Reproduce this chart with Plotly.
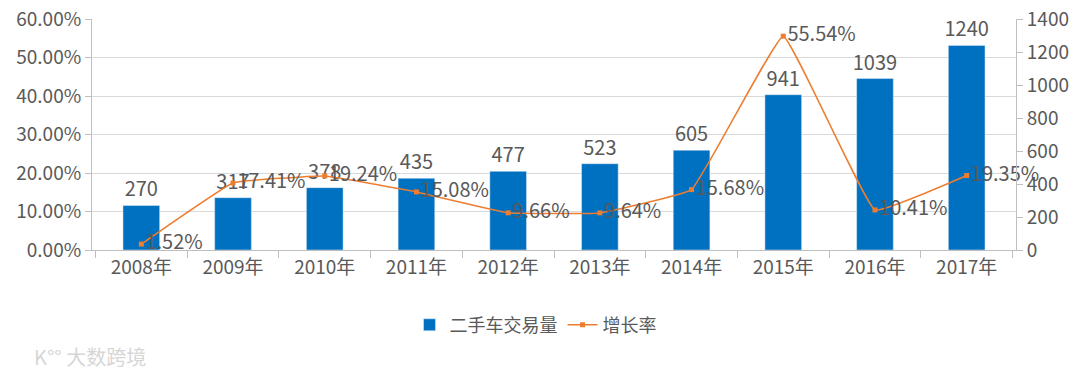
import plotly.graph_objects as go

years = ["2008年", "2009年", "2010年", "2011年", "2012年", "2013年", "2014年", "2015年", "2016年", "2017年"]
volume = [270, 317, 378, 435, 477, 523, 605, 941, 1039, 1240]
growth = [0.0152, 0.1741, 0.1924, 0.1508, 0.0966, 0.0964, 0.1568, 0.5554, 0.1041, 0.1935]
growth_labels = ["1.52%", "17.41%", "19.24%", "15.08%", "9.66%", "9.64%", "15.68%", "55.54%", "10.41%", "19.35%"]
left_ticks = [0, 0.1, 0.2, 0.3, 0.4, 0.5, 0.6]
right_ticks = [0, 200, 400, 600, 800, 1000, 1200, 1400]

FONT = "Noto Sans CJK SC"
GREY = "#595959"

fig = go.Figure()
fig.add_trace(go.Bar(
    x=years, y=volume, name="二手车交易量", yaxis="y",
    marker=dict(color="#0070C0"), width=0.4,
    text=[str(v) for v in volume], textposition="outside", constraintext="none",
    textfont=dict(size=20, color=GREY, family=FONT), cliponaxis=False,
))
fig.add_trace(go.Scatter(
    x=years, y=growth, name="增长率", yaxis="y2",
    mode="lines+markers+text",
    line=dict(color="#ED7D31", width=1.5, shape="spline", smoothing=0.25),
    marker=dict(color="#ED7D31", size=5, symbol="square"),
    text=growth_labels, textposition="middle right",
    textfont=dict(size=20, color=GREY, family=FONT), cliponaxis=False,
))

fig.update_layout(
    width=1080, height=380,
    margin=dict(l=92, r=64, t=19, b=130, autoexpand=False),
    plot_bgcolor="white", paper_bgcolor="white",
    font=dict(family=FONT, color=GREY, size=18),
    xaxis=dict(type="category", showline=True, linecolor="#bfbfbf", ticks="outside",
               tickson="boundaries", ticklen=7, tickcolor="#bfbfbf", automargin=False,
               tickfont=dict(size=19, color=GREY), showgrid=False),
    yaxis=dict(range=[0, 1400], tickvals=right_ticks, side="right",
               showline=True, linecolor="#bfbfbf", ticks="outside", ticklen=6,
               tickcolor="#bfbfbf", showgrid=False, zeroline=False, automargin=False,
               ticklabeloverflow="allow", tickfont=dict(size=19, color=GREY)),
    yaxis2=dict(range=[0, 0.6], tickvals=left_ticks, tickformat=".2%", showline=True,
                overlaying="y", side="left", automargin=False,
                linecolor="#bfbfbf", ticks="outside", ticklen=6, tickcolor="#bfbfbf",
                showgrid=True, gridcolor="#d9d9d9", zeroline=False,
                ticklabeloverflow="allow", tickfont=dict(size=19, color=GREY)),
    legend=dict(orientation="h", x=0.48, xanchor="center", y=-0.325, yanchor="middle",
                font=dict(size=18, color=GREY), traceorder="normal"),
)
fig.add_annotation(text="K°° 大数跨境", xref="paper", yref="paper", x=-0.065, y=-0.46,
                   xanchor="left", yanchor="middle", showarrow=False,
                   font=dict(size=20, color="#d6d6d6", family=FONT))

fig.write_html("out.html", config={"displayModeBar": False},
               post_script="document.body.style.margin='0';")
